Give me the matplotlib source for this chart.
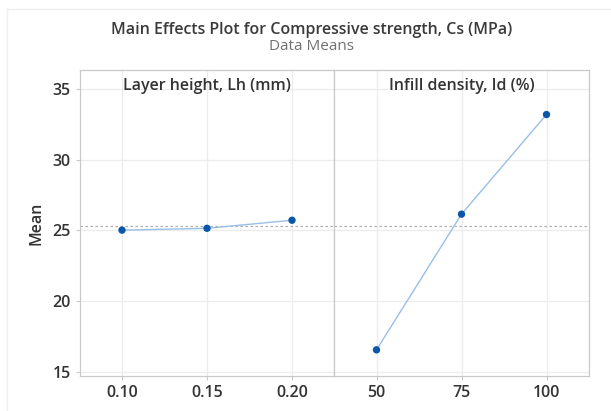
import numpy as np
import matplotlib.pyplot as plt
from matplotlib.lines import Line2D

plt.rcParams['font.family'] = ['Open Sans', 'DejaVu Sans']

# data
lh_levels = [0.10, 0.15, 0.20]
lh_labels = ["0.10", "0.15", "0.20"]
lh_means = [25.02, 25.15, 25.72]

id_levels = [50, 75, 100]
id_labels = ["50", "75", "100"]
id_means = [16.55, 26.15, 33.2]

grand_mean = 25.3
panel_titles = ["Layer height, Lh (mm)", "Infill density, Id (%)"]
y_ticks = [15, 20, 25, 30, 35]

dot_col = "#0a56a8"
line_col = "#98bfe6"
frame_col = "#c9c9c9"
grid_col = "#ececec"
txt_col = "#333333"

fig = plt.figure(figsize=(6.11, 4.11), dpi=100)
ax1 = fig.add_axes([80/611, 1 - 376/411, 254/611, 306/411])
ax2 = fig.add_axes([334/611, 1 - 376/411, 255/611, 306/411], sharey=ax1)

panels = [
    (ax1, lh_levels, lh_labels, lh_means, (0.0753, 0.2247)),
    (ax2, id_levels, id_labels, id_means, (37.5, 112.5)),
]

for i, (ax, lv, lab, m, xl) in enumerate(panels):
    ax.plot(lv, m, color=line_col, lw=1.0, zorder=2)
    ax.scatter(lv, m, s=28, color=dot_col, zorder=3, edgecolor="none")
    ax.axhline(grand_mean, color="#b0b0b0", lw=0.9, ls=(0, (2, 2)), zorder=1)
    ax.set_xlim(*xl)
    ax.set_xticks(lv)
    ax.set_xticklabels(lab)
    ax.set_ylim(14.7, 36.35)
    ax.set_yticks(y_ticks)
    ax.grid(True, color=grid_col, lw=0.9, zorder=0)
    ax.set_axisbelow(True)
    for s in ax.spines.values():
        s.set_color(frame_col)
        s.set_linewidth(0.9)
    ax.tick_params(colors=frame_col, labelcolor=txt_col, labelsize=11.5, length=3, width=0.8)
    for t in ax.get_xticklabels() + ax.get_yticklabels():
        t.set_fontweight("semibold")
    ax.text(0.5, 0.975, panel_titles[i], transform=ax.transAxes, ha="center", va="top",
            fontsize=11.5, fontweight="semibold", color=txt_col)

plt.setp(ax2.get_yticklabels(), visible=False)
ax2.tick_params(axis="y", length=0)

ax1.set_ylabel("Mean", fontsize=11.5, fontweight="semibold", color=txt_col, labelpad=6)

fig.text(0.51, 1 - 30/411, "Main Effects Plot for Compressive strength, Cs (MPa)",
         ha="center", va="center", fontsize=11.5, fontweight="semibold", color="#3a3a3a")
fig.text(0.51, 1 - 47/411, "Data Means", ha="center", va="center",
         fontsize=11, color="#707070")

# faint outer frame of the original graph window
fig.add_artist(Line2D([7/611, 1], [1 - 9.5/411] * 2, color="#efefef", lw=1))
fig.add_artist(Line2D([7/611] * 2, [0, 1 - 9.5/411], color="#efefef", lw=1))

fig.savefig("out.png", dpi=100)
